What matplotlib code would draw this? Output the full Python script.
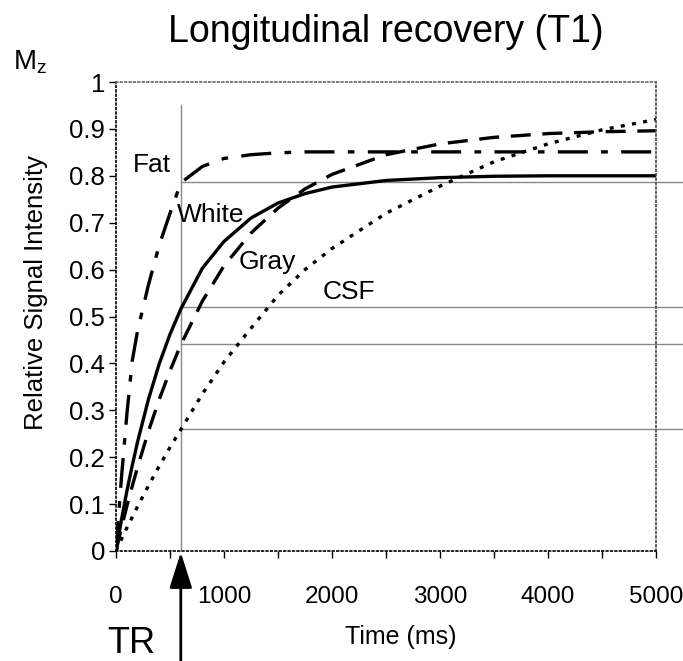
import matplotlib
matplotlib.use("Agg")
import matplotlib.pyplot as plt

plt.rcParams['font.family'] = ['Liberation Sans', 'DejaVu Sans']
plt.rcParams['mathtext.fontset'] = 'custom'
plt.rcParams['mathtext.rm'] = 'Liberation Sans'
plt.rcParams['mathtext.it'] = 'Liberation Sans'

# values
time_ms = [0, 50, 100, 150, 200, 300, 400, 500, 600, 800, 1000, 1250, 1500,
           1750, 2000, 2500, 3000, 3500, 4000, 4500, 5000]
fat = [0, 0.155, 0.29, 0.405, 0.47, 0.567, 0.652, 0.72, 0.785, 0.82, 0.837,
       0.845, 0.849, 0.851, 0.851, 0.851, 0.851, 0.851, 0.851, 0.851, 0.851]
white = [0, 0.066, 0.127, 0.182, 0.233, 0.323, 0.399, 0.462, 0.516, 0.603,
         0.66, 0.71, 0.742, 0.762, 0.776, 0.79, 0.796, 0.799, 0.80, 0.80, 0.80]
gray = [0, 0.049, 0.095, 0.138, 0.179, 0.255, 0.323, 0.384, 0.44, 0.533,
        0.608, 0.678, 0.731, 0.772, 0.803, 0.845, 0.868, 0.882, 0.89, 0.894,
        0.896]
csf = [0, 0.025, 0.049, 0.072, 0.095, 0.139, 0.181, 0.221, 0.259, 0.335,
       0.403, 0.475, 0.545, 0.60, 0.645, 0.72, 0.778, 0.83, 0.868, 0.898, 0.92]

TR = 600
signal_at_tr = [0.787, 0.521, 0.442, 0.261]   # fat, white, gray, csf

W, H = 683, 661
fig = plt.figure(figsize=(W / 100, H / 100), dpi=100)
# axes box in pixels: x 116..656, y 82..551
ax = fig.add_axes([116 / W, 1 - 551 / H, 540 / W, 469 / H])

# guide lines at TR
ax.plot([TR, TR], [0, 0.95], color='#888888', lw=1, zorder=1)
for s in signal_at_tr:
    ax.plot([TR, 5250], [s, s], color='#888888', lw=1, clip_on=False, zorder=1)

ax.plot(time_ms, fat, color='black', lw=2.4, dashes=(9, 4, 2, 4))
ax.plot(time_ms, white, color='black', lw=2.4)
ax.plot(time_ms, gray, color='black', lw=2.4, dashes=(6, 3.5))
ax.plot(time_ms, csf, color='black', lw=2.4, dashes=(1.2, 2.2))

ax.text(333, 0.823, 'Fat', fontsize=19, ha='center', va='center')
ax.text(880, 0.716, 'White', fontsize=19, ha='center', va='center')
ax.text(1403, 0.617, 'Gray', fontsize=19, ha='center', va='center')
ax.text(2155, 0.553, 'CSF', fontsize=19, ha='center', va='center')

ax.set_xlim(0, 5000)
ax.set_ylim(0, 1)
ax.set_xticks(range(0, 5001, 1000))
ax.set_xticks(range(500, 5000, 1000), minor=True)
ax.set_yticks([i / 10 for i in range(11)])
ax.set_yticklabels(['0', '0.1', '0.2', '0.3', '0.4', '0.5', '0.6', '0.7',
                    '0.8', '0.9', '1'])
ax.tick_params(axis='both', which='both', direction='out', length=5, width=1)
ax.tick_params(axis='y', pad=3, labelsize=18.5)
ax.tick_params(axis='x', pad=20, labelsize=17.5)

for side in ['top', 'right', 'left', 'bottom']:
    ax.spines[side].set_linestyle(':')
    ax.spines[side].set_linewidth(1.2)
ax.spines['top'].set_color('#666666')
ax.spines['right'].set_color('#444444')

ax.set_xlabel('Time (ms)', fontsize=18)
ax.xaxis.set_label_coords((401 - 116) / 540, -(637 - 551) / 469)
ax.xaxis.label.set_va('center')
ax.set_ylabel('Relative Signal Intensity', fontsize=18.5)
ax.yaxis.set_label_coords(-(116 - 36) / 540, (551 - 293) / 469)
ax.yaxis.label.set_va('center')

fig.text(386 / W, 1 - 42 / H, 'Longitudinal recovery (T1)', fontsize=27,
         ha='center', va='baseline')
fig.text(13 / W, 1 - 70 / H, r'M$_\mathregular{z}$', fontsize=20,
         ha='left', va='baseline')
fig.text(131 / W, 1 - 653 / H, 'TR', fontsize=26, ha='center', va='baseline')

ax.annotate('', xy=(TR, 0), xytext=(TR, -0.3), xycoords='data',
            annotation_clip=False,
            arrowprops=dict(arrowstyle='-|>,head_length=2.2,head_width=0.7',
                            color='black', lw=2, shrinkA=0, shrinkB=1))

fig.savefig('out.png', dpi=100)
